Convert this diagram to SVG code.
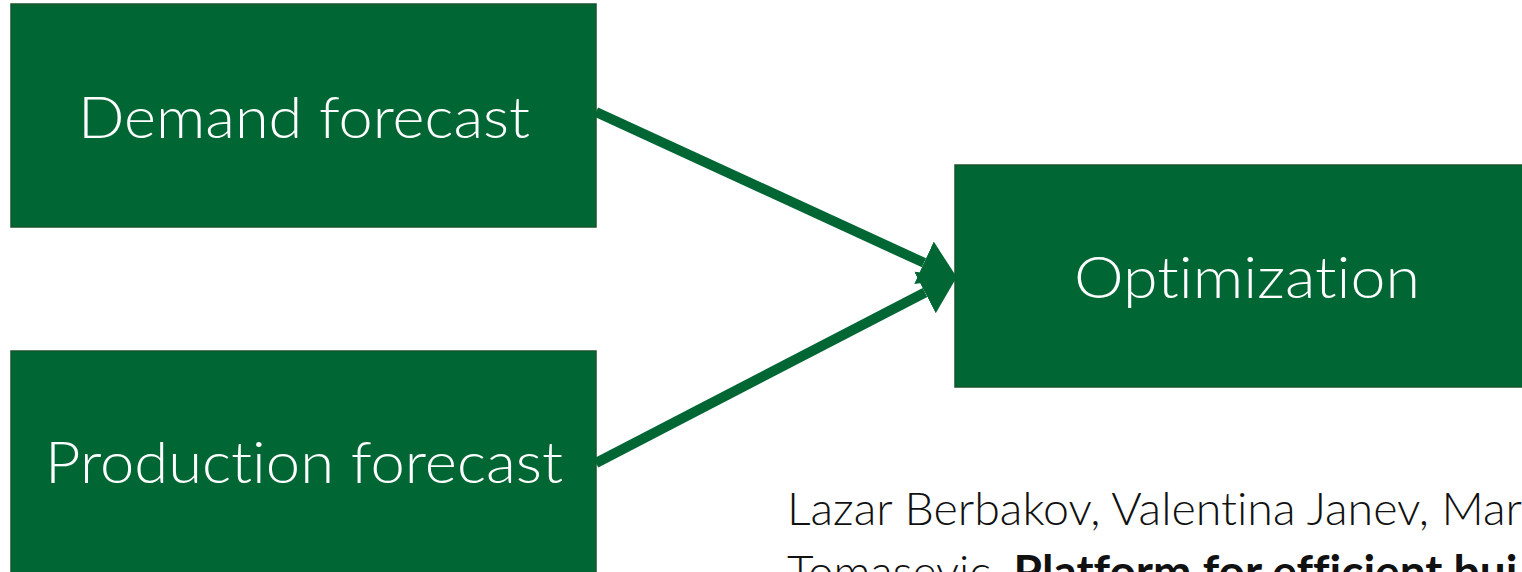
<svg xmlns="http://www.w3.org/2000/svg" width="1522" height="572" viewBox="0 0 1522 572">
  <style>
    text { font-variant-ligatures: none; font-feature-settings: "liga" 0, "clig" 0; }
    .box { fill: #006633; stroke: #14562d; stroke-width: 1.5; }
    .label { font-family: Lato, "Open Sans", "Liberation Sans", sans-serif; font-size: 58px; fill: #ffffff; font-weight: 300; }
    .link { stroke: #006633; stroke-width: 10; fill: none; }
    .cite { font-family: Lato, "Open Sans", "Liberation Sans", sans-serif; font-size: 46px; fill: #111111; font-weight: 300; }
    .cite .bold { font-weight: 700; }
  </style>
  <defs>
    <marker id="head" markerUnits="userSpaceOnUse" markerWidth="40" markerHeight="50" viewBox="0 -22 36 44" refX="0" refY="0" orient="auto">
      <path d="M0,-21 L33,0 L0,21 z" fill="#006633"/>
    </marker>
  </defs>

  <rect width="1522" height="572" fill="#ffffff"/>

  <g id="demand">
    <rect class="box" x="11" y="4" width="585" height="223"/>
    <text class="label" x="304" y="138" text-anchor="middle" textLength="452" lengthAdjust="spacingAndGlyphs">Demand forecast</text>
  </g>

  <g id="production">
    <rect class="box" x="11" y="351" width="585" height="240"/>
    <text class="label" x="304" y="483" text-anchor="middle" textLength="518" lengthAdjust="spacingAndGlyphs">Production forecast</text>
  </g>

  <g id="optimization">
    <rect class="box" x="955" y="165" width="590" height="222"/>
    <text class="label" x="1247" y="298" text-anchor="middle" textLength="346" lengthAdjust="spacingAndGlyphs">Optimization</text>
  </g>

  <g id="connectors">
    <line class="link" x1="596" y1="112" x2="924" y2="262.8" marker-end="url(#head)"/>
    <line class="link" x1="596" y1="463" x2="925" y2="292.5" marker-end="url(#head)"/>
  </g>

  <g id="citation">
    <text class="cite" x="787" y="525" textLength="735" lengthAdjust="spacingAndGlyphs">Lazar Berbakov, Valentina Janev, Mar</text>
    <text class="cite" x="787" y="588">Tomasevic, <tspan class="bold">Platform for efficient bui</tspan></text>
  </g>
</svg>
